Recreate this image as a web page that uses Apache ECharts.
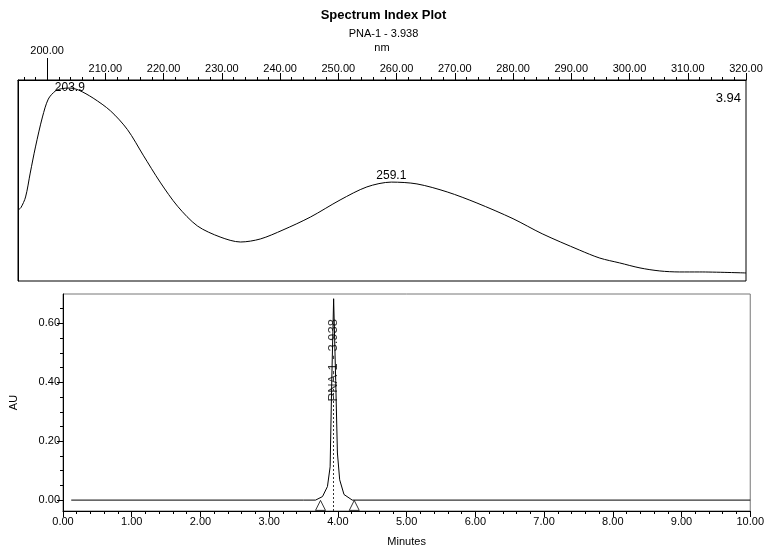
<!DOCTYPE html>
<html>
<head>
<meta charset="utf-8">
<script src="https://cdn.jsdelivr.net/npm/echarts@6/dist/echarts.min.js"></script>
<style>
  html, body { margin: 0; padding: 0; background: #fff; }
  #container { width: 767px; height: 548px; }
</style>
</head>
<body>
<div id="container"></div>
<script>
// spectrum at 3.938 min (nm vs. relative absorbance)
const wavelengths = [195.0, 195.5, 196.3, 197.1, 198.0, 199.2, 200.2, 201.4, 202.5, 203.9, 205.4, 207.9, 210.9, 213.8, 216.5, 219.4, 222.4, 225.8, 229.7, 233.2, 236.6, 240.5, 245.2, 250.3, 254.9, 259.1, 263.5, 268.7, 273.8, 280.0, 285.0, 291.4, 294.9, 298.3, 301.8, 305.2, 308.6, 312.0, 320.0]
const absorbance = [0.353, 0.365, 0.418, 0.537, 0.667, 0.816, 0.905, 0.945, 0.957, 0.960, 0.950, 0.910, 0.846, 0.753, 0.626, 0.492, 0.372, 0.274, 0.219, 0.194, 0.209, 0.254, 0.318, 0.403, 0.468, 0.492, 0.483, 0.443, 0.388, 0.310, 0.235, 0.154, 0.114, 0.090, 0.065, 0.050, 0.045, 0.045, 0.040]
const spectrumPeaks = [[203.9, 0.960], [259.1, 0.492]]

// chromatogram
const times = [0.12, 3.50, 3.675, 3.776, 3.848, 3.887, 3.911, 3.938, 3.968, 3.993, 4.026, 4.089, 4.209, 10.00]
const au = [0.000, 0.000, 0.000, 0.012, 0.046, 0.113, 0.407, 0.684, 0.407, 0.160, 0.069, 0.019, 0.000, 0.000]
const peakTime = 3.938
const peakName = 'PNA-1 - 3.938'
const peakBounds = [3.747, 4.238]

// tick labels
const nmFirstTick = [200]
const nmMajorTicks = [210, 220, 230, 240, 250, 260, 270, 280, 290, 300, 310, 320]
const nmMinorTicks = [196, 198, 202, 204, 206, 208, 212, 214, 216, 218, 222, 224, 226, 228, 232, 234, 236, 238, 242, 244, 246, 248, 252, 254, 256, 258, 262, 264, 266, 268, 272, 274, 276, 278, 282, 284, 286, 288, 292, 294, 296, 298, 302, 304, 306, 308, 312, 314, 316, 318]
const auMajorTicks = [0, 0.2, 0.4, 0.6]
const auMinorTicks = [0.05, 0.1, 0.15, 0.25, 0.3, 0.35, 0.45, 0.5, 0.55, 0.65]

const font = 'Liberation Sans, Arial, sans-serif'
const black = '#000'

const nmRange = { min: 195, max: 320 }
const topAxisBase = {
  type: 'value',
  gridIndex: 0,
  position: 'top',
  min: nmRange.min,
  max: nmRange.max,
  splitLine: { show: false },
  axisLine: { show: false, onZero: false }
}

const option = {
  animation: false,
  backgroundColor: '#fff',
  textStyle: { fontFamily: font, color: black },
  title: [
    {
      text: 'Spectrum Index Plot',
      left: 'center',
      top: 4,
      textStyle: { fontSize: 13, fontWeight: 'bold', color: black, fontFamily: font }
    },
    {
      text: peakName,
      left: 'center',
      top: 23,
      textStyle: { fontSize: 11, fontWeight: 'normal', color: black, fontFamily: font }
    },
    {
      text: '3.94',
      right: 21,
      top: 87,
      textStyle: { fontSize: 13, fontWeight: 'normal', color: black, fontFamily: font }
    }
  ],
  grid: [
    { left: 18, right: 21, top: 80, height: 201, show: true, borderColor: black, borderWidth: 1 },
    { left: 58, right: 16, top: 294, height: 217, show: true, borderColor: '#777', borderWidth: 1 }
  ],
  xAxis: [
    {
      ...topAxisBase,
      axisLine: { show: true, onZero: false, lineStyle: { color: black, width: 1 } },
      name: 'nm',
      nameLocation: 'middle',
      nameGap: 27,
      nameTextStyle: { fontSize: 11, color: black },
      axisTick: { show: true, length: 3, customValues: nmMinorTicks, lineStyle: { color: black } },
      axisLabel: {
        customValues: nmMajorTicks,
        fontSize: 11,
        color: black,
        margin: 6,
        formatter: v => v.toFixed(2)
      }
    },
    {
      ...topAxisBase,
      axisTick: { show: true, length: 7, customValues: nmMajorTicks, lineStyle: { color: black } },
      axisLabel: { show: false }
    },
    {
      ...topAxisBase,
      axisTick: { show: true, length: 22, customValues: nmFirstTick, lineStyle: { color: black } },
      axisLabel: {
        customValues: nmFirstTick,
        fontSize: 11,
        color: black,
        margin: 24,
        formatter: v => v.toFixed(2)
      }
    },
    {
      type: 'value',
      gridIndex: 1,
      position: 'bottom',
      min: 0,
      max: 10,
      interval: 1,
      name: 'Minutes',
      nameLocation: 'middle',
      nameGap: 25,
      nameTextStyle: { fontSize: 11, color: black },
      splitLine: { show: false },
      axisLine: { show: true, onZero: false, lineStyle: { color: black } },
      axisTick: { show: true, length: 6, lineStyle: { color: black } },
      minorTick: { show: true, splitNumber: 5, length: 3, lineStyle: { color: black } },
      axisLabel: { fontSize: 11, color: black, margin: 5, formatter: v => v.toFixed(2) }
    }
  ],
  yAxis: [
    {
      type: 'value',
      gridIndex: 0,
      min: 0,
      max: 1,
      splitLine: { show: false },
      axisLine: { show: true, onZero: false, lineStyle: { color: black } },
      axisTick: { show: false },
      axisLabel: { show: false }
    },
    {
      type: 'value',
      gridIndex: 1,
      position: 'left',
      min: -0.037,
      max: 0.70,
      name: 'AU',
      nameLocation: 'middle',
      nameGap: 44,
      nameTextStyle: { fontSize: 11, color: black },
      splitLine: { show: false },
      axisLine: { show: true, onZero: false, lineStyle: { color: black } },
      axisTick: { show: true, length: 6, customValues: auMajorTicks, lineStyle: { color: black } },
      axisLabel: {
        customValues: auMajorTicks,
        fontSize: 11,
        color: black,
        margin: 3,
        formatter: v => v.toFixed(2)
      }
    },
    {
      type: 'value',
      gridIndex: 1,
      position: 'left',
      min: -0.037,
      max: 0.70,
      splitLine: { show: false },
      axisLine: { show: false, onZero: false },
      axisTick: { show: true, length: 3, customValues: auMinorTicks, lineStyle: { color: black } },
      axisLabel: { show: false }
    }
  ],
  series: [
    {
      name: 'spectrum',
      type: 'line',
      xAxisIndex: 0,
      yAxisIndex: 0,
      data: wavelengths.map((w, i) => [w, absorbance[i]]),
      smooth: 0.3,
      symbol: 'none',
      lineStyle: { color: black, width: 1 },
      markPoint: {
        symbol: 'circle',
        symbolSize: 0,
        label: {
          show: true,
          position: 'top',
          distance: 0,
          fontSize: 12,
          color: black,
          formatter: p => p.value
        },
        data: spectrumPeaks.map((p, i) => ({
          coord: p,
          value: p[0].toFixed(1),
          label: { offset: i === 0 ? [0, 6] : [0, 0] }
        }))
      }
    },
    {
      name: 'chromatogram',
      type: 'line',
      xAxisIndex: 3,
      yAxisIndex: 1,
      data: times.map((t, i) => [t, au[i]]),
      symbol: 'none',
      lineStyle: { color: black, width: 1 },
      markLine: {
        silent: true,
        symbol: 'none',
        label: { show: false },
        lineStyle: { color: '#333', type: [2, 2], width: 1 },
        data: [[{ coord: [peakTime, -0.037] }, { coord: [peakTime, 0.385] }]]
      }
    },
    {
      name: 'peak label',
      type: 'scatter',
      xAxisIndex: 3,
      yAxisIndex: 1,
      symbolSize: 0,
      data: [[peakTime, 0.475]],
      label: {
        show: true,
        position: 'inside',
        rotate: 90,
        fontSize: 13,
        color: black,
        formatter: peakName
      }
    },
    {
      name: 'peak bounds',
      type: 'scatter',
      xAxisIndex: 3,
      yAxisIndex: 1,
      symbol: 'triangle',
      symbolSize: [10, 10],
      itemStyle: { color: '#fff', borderColor: black, borderWidth: 1 },
      data: peakBounds.map(t => [t, -0.018])
    }
  ]
}

const chart = echarts.init(document.getElementById('container'))
chart.setOption(option)
</script>
</body>
</html>
